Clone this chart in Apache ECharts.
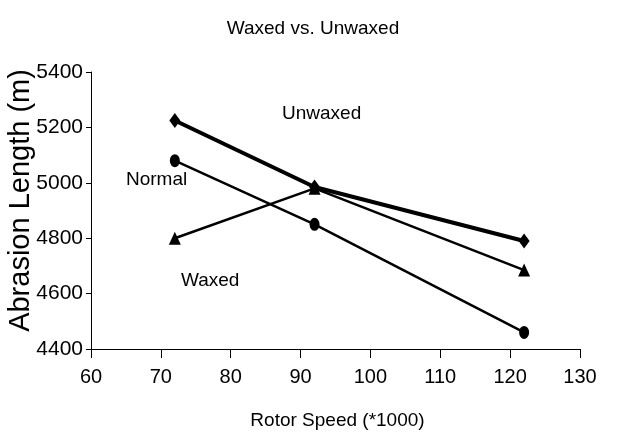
<!DOCTYPE html>
<html><head><meta charset="utf-8">
<script src="https://cdn.jsdelivr.net/npm/echarts@6/dist/echarts.min.js"></script>
<style>html,body{margin:0;padding:0;background:#fff}#c{width:626px;height:437px}</style>
</head><body><div id="c"></div>
<script>
const xValues = [72, 92, 122];
const unwaxed = [5225, 4985, 4790];
const waxed = [4800, 4980, 4685];
const normal = [5080, 4850, 4460];
const xTicks = [60, 70, 80, 90, 100, 110, 120, 130];
const yTicks = [4400, 4600, 4800, 5000, 5200, 5400];

const F = '"Liberation Sans", Arial, sans-serif';
const pairs = a => xValues.map((x, i) => [x, a[i]]);
const chart = echarts.init(document.getElementById('c'));
chart.setOption({
  backgroundColor: '#fff',
  animation: false,
  title: { text: 'Waxed vs. Unwaxed', left: 'center', top: 14,
    textStyle: { fontFamily: F, fontSize: 19, fontWeight: 'normal', color: '#000' } },
  grid: { left: 91, right: 46, top: 72, bottom: 88, containLabel: false, outerBoundsMode: 'none' },
  xAxis: { type: 'value', min: xTicks[0], max: xTicks[xTicks.length-1], interval: 10,
    name: 'Rotor Speed (*1000)', nameLocation: 'middle', nameGap: 62, nameMoveOverlap: false,
    nameTextStyle: { fontFamily: F, fontSize: 19, color: '#000', padding: [0, 0, 0, 4] },
    axisLine: { lineStyle: { color: '#000', width: 1 } },
    axisTick: { show: true, length: 9, lineStyle: { color: '#000' } },
    axisLabel: { fontFamily: F, fontSize: 20, color: '#000', margin: 18, formatter: v => String(v) },
    splitLine: { show: false } },
  yAxis: { type: 'value', min: yTicks[0], max: yTicks[yTicks.length-1], interval: 200,
    name: 'Abrasion Length (m)', nameLocation: 'middle', nameGap: 56, nameMoveOverlap: false,
    nameTextStyle: { fontFamily: F, fontSize: 29, color: '#000', padding: [0, 0, 0, 20] },
    axisLine: { show: true, lineStyle: { color: '#000', width: 1 } },
    axisTick: { show: true, length: 5, lineStyle: { color: '#000' } },
    axisLabel: { fontFamily: F, fontSize: 21, color: '#000', margin: 8, formatter: v => String(v) },
    splitLine: { show: false } },
  series: [
    { name: 'Unwaxed', type: 'line', data: pairs(unwaxed), symbol: 'diamond', symbolSize: [11, 15],
      lineStyle: { color: '#000', width: 4 }, itemStyle: { color: '#000' } },
    { name: 'Waxed', type: 'line', data: pairs(waxed), symbol: 'triangle', symbolSize: [12, 13],
      lineStyle: { color: '#000', width: 2.5 }, itemStyle: { color: '#000' } },
    { name: 'Normal', type: 'line', data: pairs(normal), symbol: 'circle', symbolSize: [10, 13],
      lineStyle: { color: '#000', width: 2.5 }, itemStyle: { color: '#000' } }
  ],
  graphic: [
    { type: 'text', left: 282, top: 104, style: { text: 'Unwaxed', font: '19px ' + F, fill: '#000' } },
    { type: 'text', left: 126, top: 170, style: { text: 'Normal', font: '19px ' + F, fill: '#000' } },
    { type: 'text', left: 181, top: 271, style: { text: 'Waxed', font: '19px ' + F, fill: '#000' } }
  ]
});
</script></body></html>
